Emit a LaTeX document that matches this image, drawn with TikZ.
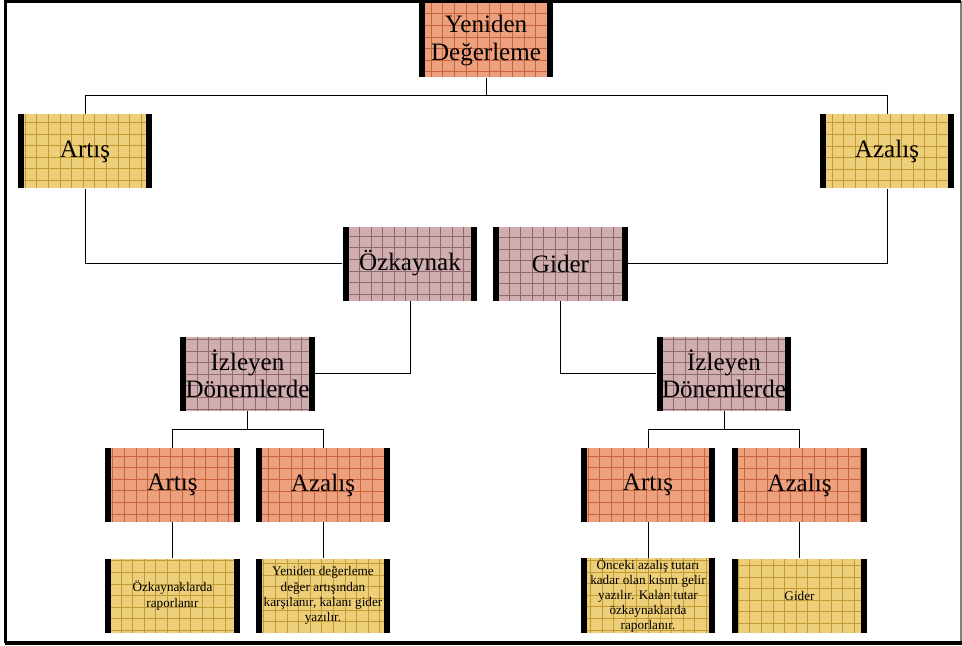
\documentclass[tikz,border=0pt]{standalone}
\usepackage{fontspec}
\setmainfont{Liberation Serif}
\definecolor{salmonfill}{HTML}{EDA07E}
\definecolor{salmongrid}{HTML}{C8643C}
\definecolor{yellowfill}{HTML}{EDCF7A}
\definecolor{yellowgrid}{HTML}{C29A36}
\definecolor{mauvefill}{HTML}{D0AEB0}
\definecolor{mauvegrid}{HTML}{8E6A6E}
\begin{document}
\begin{tikzpicture}[x=0.75pt,y=-0.75pt,
    box/.style={fill=#1fill, minimum width=101pt, minimum height=55.5pt,
        inner sep=0pt, align=center, font=\fontsize{18.8}{20.3}\selectfont,
        path picture={
            \draw[#1grid,line width=.4pt,step=8.7pt]
                (path picture bounding box.south west) grid
                (path picture bounding box.north east);
            \fill[black] (path picture bounding box.south west) rectangle
                ([xshift=4.5pt]path picture bounding box.north west);
            \fill[black] (path picture bounding box.north east) rectangle
                ([xshift=-4.5pt]path picture bounding box.south east);}},
    note/.style={box=yellow, font=\fontsize{9.9}{11.4}\selectfont},
    link/.style={draw=black, line width=0.6pt}]
\useasboundingbox (0,0) rectangle (962,645);

% frame
\draw[gray, line width=0.8pt] (961,1.5) -- (961,643);
\draw[black, line width=1.6pt] (961,1.5) -- (5.5,1.5) -- (5.5,643);
\draw[black, line width=2.4pt] (4.5,643) -- (962,643);

% top
\node[box=salmon] (yeniden) at (486,40.5) {Yeniden\\Değerleme};

% level 2
\node[box=yellow] (artis) at (85,151.5) {Artış};
\node[box=yellow] (azalis) at (887,151.5) {Azalış};

% level 3
\node[box=mauve] (ozkaynak) at (410,263.5) {Özkaynak};
\node[box=mauve] (gider) at (560.5,263.5) {Gider};
\node[box=mauve] (izleyenL) at (247.5,373.5) {İzleyen\\Dönemlerde};
\node[box=mauve] (izleyenR) at (724,373.5) {İzleyen\\Dönemlerde};

% level 4
\node[box=salmon] (artisL) at (172.5,485) {Artış};
\node[box=salmon] (azalisL) at (323,485) {Azalış};
\node[box=salmon] (artisR) at (648,485) {Artış};
\node[box=salmon] (azalisR) at (799.5,485) {Azalış};

% level 5
\node[note] (notA) at (172.5,595.5) {Özkaynaklarda\\raporlanır};
\node[note] (notB) at (323,595.5) {Yeniden değerleme\\değer artışından\\karşılanır, kalanı gider\\yazılır.};
\node[note] (notC) at (648,595.5) {Önceki azalış tutarı\\kadar olan kısım gelir\\yazılır. Kalan tutar\\özkaynaklarda\\raporlanır.};
\node[note] (notD) at (799.5,595.5) {Gider};

% connectors
\draw[link] (yeniden.south) -- ++(0,18) coordinate (j0) -| (artis.north)
    (j0) -| (azalis.north);
\draw[link] (artis) |- (ozkaynak);
\draw[link] (azalis) |- (gider);
\draw[link] (ozkaynak) |- (izleyenL);
\draw[link] (gider) |- (izleyenR);
\draw[link] (izleyenL.south) -- ++(0,19) coordinate (j1) -| (artisL.north)
    (j1) -| (azalisL.north);
\draw[link] (izleyenR.south) -- ++(0,19) coordinate (j2) -| (artisR.north)
    (j2) -| (azalisR.north);
\draw[link] (artisL) -- (notA);
\draw[link] (azalisL) -- (notB);
\draw[link] (artisR) -- (notC);
\draw[link] (azalisR) -- (notD);

\end{tikzpicture}
\end{document}
